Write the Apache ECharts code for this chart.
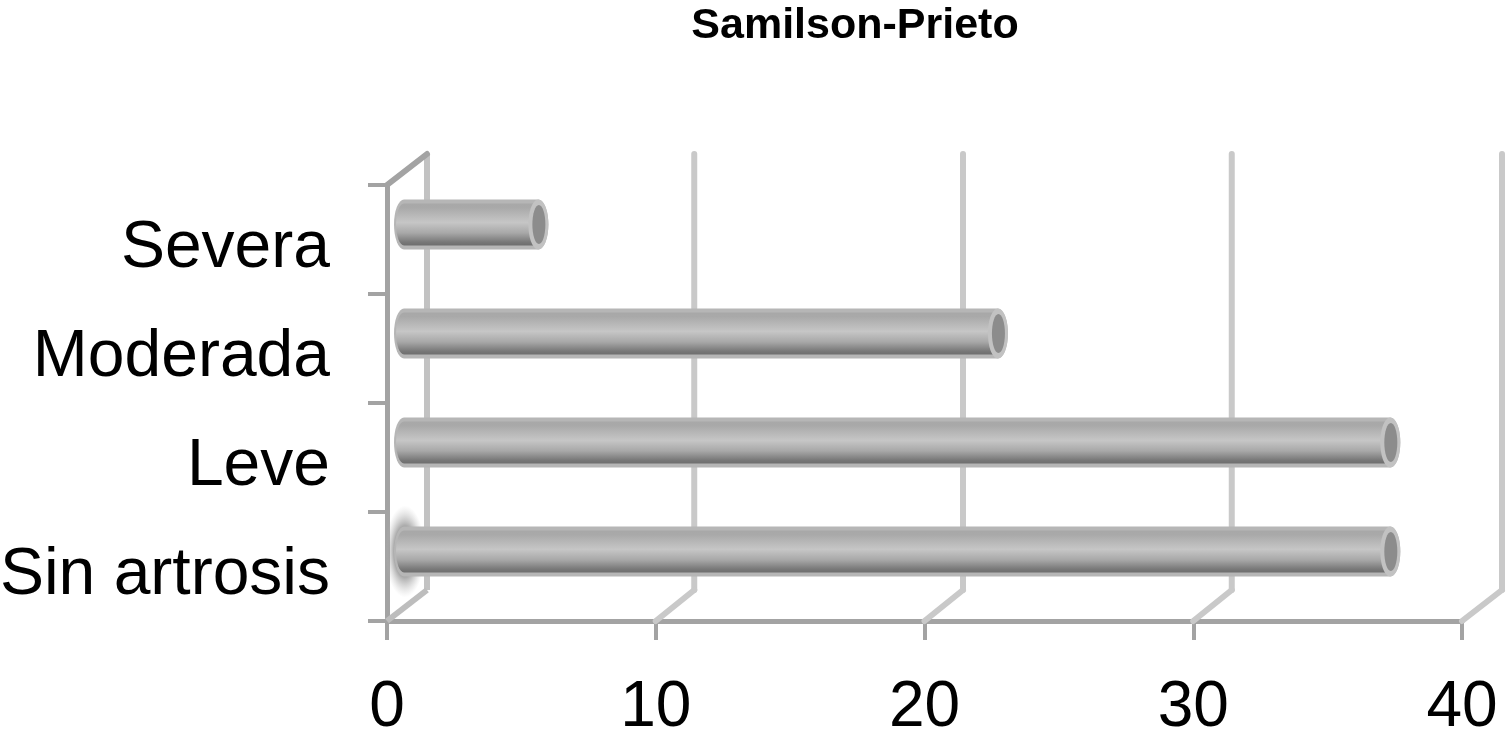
<!DOCTYPE html>
<html><head><meta charset="utf-8">
<style>html,body{margin:0;padding:0;background:#fff}#c{width:1508px;height:733px;filter:blur(0.6px)}</style>
<script src="https://cdn.jsdelivr.net/npm/echarts@6/dist/echarts.min.js"></script>
</head><body><div id="c"></div>
<script>
const chartTitle = 'Samilson-Prieto';
const categories = ['Sin artrosis', 'Leve', 'Moderada', 'Severa'];
const values = [36.7, 36.7, 22.1, 5];
const xTicks = [0, 10, 20, 30, 40];
const glowCategories = ['Sin artrosis'];

const DX = 40, DY = -31;
const BAR_DX = 17, BAR_DY = -15;
const chart = echarts.init(document.getElementById('c'), null, {renderer: 'canvas'});

function wallItem(params, api) {
  const p = api.coord([api.value(0), 0]);
  const size = api.size([0, 1]);
  const bottomY = p[1] + size[1] / 2;
  const topY = bottomY - size[1] * categories.length;
  const x = p[0];
  const first = api.value(0) === 0;
  const bx = x + DX - (first || api.value(0) === 40 ? 0 : 1.5);
  const back = {stroke: '#c9c9c9', lineWidth: 6, lineCap: 'round'};
  const kids = [
    {type: 'line', shape: {x1: bx, y1: topY + DY, x2: bx, y2: bottomY + DY}, style: first ? {stroke: '#c2c2c2', lineWidth: 6} : back},
    {type: 'line', shape: {x1: x, y1: bottomY, x2: bx, y2: bottomY + DY}, style: first ? {stroke: '#bdbdbd', lineWidth: 6} : back}
  ];
  if (first) kids.push({type: 'line', shape: {x1: x, y1: topY, x2: x + DX, y2: topY + DY}, style: {stroke: '#a3a3a3', lineWidth: 6, lineCap: 'round'}});
  return {type: 'group', children: kids};
}

function barItem(params, api) {
  const v = api.value(0), c = api.value(1);
  const start = api.coord([0, c]);
  const end = api.coord([v, c]);
  const x0 = start[0] + BAR_DX, x1 = end[0] + BAR_DX, y = start[1] + BAR_DY;
  const ry = 25, rx = 10;
  const body = new echarts.graphic.LinearGradient(0, 0, 0, 1, [
    {offset: 0, color: '#a8a8a8'}, {offset: 0.1, color: '#a9a9a9'},
    {offset: 0.45, color: '#c6c6c6'}, {offset: 0.7, color: '#a8a8a8'},
    {offset: 0.92, color: '#787878'}, {offset: 1, color: '#6e6e6e'}
  ]);
  const kids = [];
  if (glowCategories.includes(categories[c])) {
    kids.push({type: 'circle', x: x0 + 1, y: y, scaleX: 20, scaleY: 46, shape: {cx: 0, cy: 0, r: 1}, style: {
      fill: new echarts.graphic.RadialGradient(0.5, 0.5, 0.5, [
        {offset: 0, color: 'rgba(120,120,120,0.9)'}, {offset: 0.55, color: 'rgba(130,130,130,0.7)'}, {offset: 1, color: 'rgba(190,190,190,0)'}
      ])
    }});
  }
  const outline = (rxx, ryy) => `M${x0} ${y - ryy}L${x1} ${y - ryy}A${rxx} ${ryy} 0 0 1 ${x1} ${y + ryy}L${x0} ${y + ryy}A${rxx} ${ryy} 0 0 1 ${x0} ${y - ryy}Z`;
  kids.push({type: 'path', shape: {pathData: outline(rx, ry), layout: 'cover', x: x0 - rx, y: y - ry, width: x1 - x0 + 2 * rx, height: 2 * ry}, style: {fill: '#b6b6b6'}});
  kids.push({type: 'path', shape: {pathData: outline(rx - 2, ry - 4), layout: 'cover', x: x0 - rx + 2, y: y - ry + 4, width: x1 - x0 + 2 * rx - 4, height: 2 * ry - 8}, style: {fill: body}});
  kids.push({type: 'ellipse', shape: {cx: x1, cy: y, rx: rx, ry: ry}, style: {fill: '#c2c2c2'}});
  kids.push({type: 'ellipse', shape: {cx: x1 + 0.5, cy: y, rx: 6.5, ry: 19.5}, style: {fill: '#8c8c8c'}});
  return {type: 'group', children: kids};
}

chart.setOption({
  animation: false,
  backgroundColor: '#ffffff',
  title: {
    text: chartTitle, left: 850, top: 0, textAlign: 'center',
    textStyle: {fontFamily: '"Liberation Sans", Arial', fontWeight: 'bold', fontSize: 43, color: '#000'}
  },
  grid: {left: 387, top: 185, width: 1075, height: 436, containLabel: false, outerBoundsMode: 'none'},
  xAxis: {
    type: 'value', min: 0, max: 40, interval: 10,
    splitLine: {show: false},
    axisLine: {show: true, lineStyle: {color: '#a3a3a3', width: 5}},
    axisTick: {show: true, length: 19, lineStyle: {color: '#a3a3a3', width: 4}},
    axisLabel: {fontFamily: '"Liberation Sans", Arial', fontSize: 64, color: '#000', margin: 55, hideOverlap: false, showMinLabel: true, showMaxLabel: true}
  },
  yAxis: {
    type: 'category', data: categories,
    axisLine: {show: true, lineStyle: {color: '#a3a3a3', width: 5}},
    axisTick: {show: true, length: 19, lineStyle: {color: '#a3a3a3', width: 4}},
    axisLabel: {
      color: '#000', margin: 57, interval: 0,
      formatter: v => `{t|${v}}`,
      rich: {t: {fontFamily: '"Liberation Sans", Arial', fontSize: 66, color: '#000', padding: [18, 0, 0, 0]}}
    }
  },
  series: [
    {type: 'custom', name: 'walls', coordinateSystem: 'cartesian2d', encode: {x: 0, y: 1}, z: 1, silent: true, clip: false,
     data: xTicks.map(t => [t, 0]), renderItem: wallItem},
    {type: 'custom', name: 'Samilson-Prieto', coordinateSystem: 'cartesian2d', encode: {x: 0, y: 1}, z: 3, silent: true, clip: false,
     data: values.map((v, i) => [v, i]), renderItem: barItem}
  ]
});
</script></body></html>
